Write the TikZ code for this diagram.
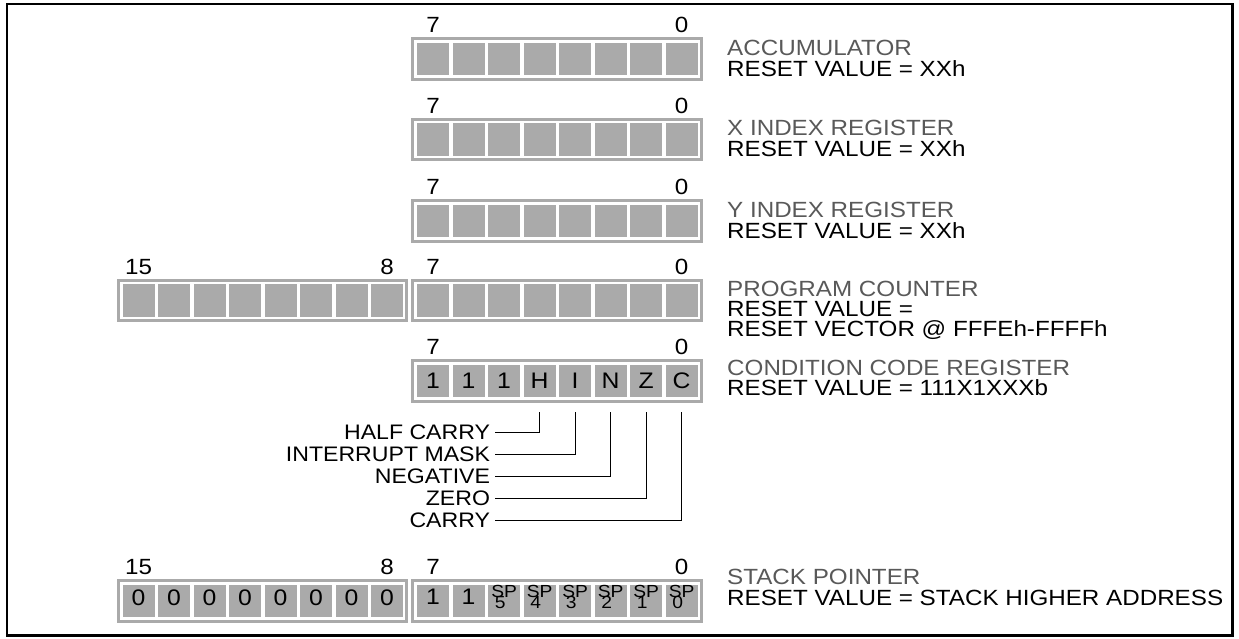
\documentclass[tikz,border=0pt]{standalone}
\usepackage{fontspec}
\setmainfont{Liberation Sans}[FakeStretch=1.1]
\usetikzlibrary{positioning,calc}
\definecolor{cellgray}{RGB}{170,170,170}
\definecolor{namegray}{RGB}{89,89,89}

% one byte of a register: #1 name, #2 left edge, #3 top edge, #4/#5 bit numbers
\newcommand{\regbyte}[5]{%
  \draw[regbox] (#2+1.5,#3+1.5) rectangle (#2+290.2,#3+41.9);
  \foreach \i [evaluate=\i as \b using int(7-\i)] in {0,...,7}
    \node[cell] (#1\b) at (#2+22.1+35.5*\i,#3+21.7) {};
  \node[bitnum] (#1hi) at ($(#17.north)+(0,-9.7)$) {#4};
  \node[bitnum] (#1lo) at ($(#10.north)+(0,-9.7)$) {#5};
}

\tikzset{
  regbox/.style={draw=cellgray, line width=3pt, fill=white},
  cell/.style={fill=cellgray, draw=none, inner sep=0pt, minimum width=32.2pt, minimum height=32.6pt},
  bitnum/.style={anchor=base, inner sep=0pt, font=\fontsize{22}{22}\selectfont},
  celltext/.style={anchor=base, inner sep=0pt, font=\fontsize{22.5}{22.5}\selectfont},
  sptext/.style={anchor=base, inner sep=0pt, font=\fontsize{17.5}{17.5}\selectfont},
  regname/.style={anchor=base west, inner sep=0pt, text=namegray, font=\fontsize{22}{22}\selectfont},
  regreset/.style={anchor=base west, inner sep=0pt, font=\fontsize{22}{22}\selectfont},
  flaglabel/.style={anchor=east, inner sep=0pt, outer xsep=5pt},
  flagline/.style={line width=1pt}
}

\begin{document}
\begin{tikzpicture}[x=1pt, y=-1pt, font=\fontsize{21}{24}\selectfont]
  \useasboundingbox (0,0) rectangle (1239,638);
  % outer frame
  \draw[line width=2.2pt] (7,4) rectangle (1232.5,635.5);

  % registers
  \regbyte{acc}{411}{37.3}{7}{0}
  \regbyte{xr}{411}{117.7}{7}{0}
  \regbyte{yr}{411}{199.3}{7}{0}
  \regbyte{pch}{116.5}{279}{15}{8}
  \regbyte{pcl}{411}{279}{7}{0}
  \regbyte{ccr}{411}{359.3}{7}{0}
  \regbyte{sph}{116.5}{579.3}{15}{8}
  \regbyte{spl}{411}{579.3}{7}{0}

  % condition code bits
  \foreach \b/\t in {7/1,6/1,5/1,4/H,3/I,2/N,1/Z,0/C}
    \node[celltext] (ccrt\b) at ($(ccr\b.center)+(0,7.8)$) {\t};

  % stack pointer bits
  \foreach \b in {0,...,7}
    \node[celltext] (spht\b) at ($(sph\b.center)+(0,4.2)$) {0};
  \foreach \b in {7,6}
    \node[celltext] (splt\b) at ($(spl\b.center)+(0,3.2)$) {1};
  \foreach \b in {0,...,5} {
    \node[sptext] (spn\b) at ($(spl\b.center)+(0,-3.5)$) {SP};
    \node[sptext] (spd\b) at ($(spl\b.center)+(-4,7.8)$) {\b};
  }

  % flag names
  \node[flaglabel] (half) at (495,432) {HALF CARRY};
  \node[flaglabel] (intm) at (495,454) {INTERRUPT MASK};
  \node[flaglabel] (negv) at (495,476) {NEGATIVE};
  \node[flaglabel] (zero) at (495,498) {ZERO};
  \node[flaglabel] (cary) at (495,520) {CARRY};
  \draw[flagline] (half.east) -| ([yshift=-14pt]ccr4.south);
  \draw[flagline] (intm.east) -| ([yshift=-14pt]ccr3.south);
  \draw[flagline] (negv.east) -| ([yshift=-14pt]ccr2.south);
  \draw[flagline] (zero.east) -| ([yshift=-14pt]ccr1.south);
  \draw[flagline] (cary.east) -| ([yshift=-14pt]ccr0.south);

  % register names and reset values
  \node[regname] (accname) at (727,55) {ACCUMULATOR};
  \node[regreset] (accreset) at (727,76) {RESET VALUE = XXh};
  \node[regname] (xname) at (727,135.4) {X INDEX REGISTER};
  \node[regreset] (xreset) at (727,156.4) {RESET VALUE = XXh};
  \node[regname] (yname) at (727,217) {Y INDEX REGISTER};
  \node[regreset] (yreset) at (727,238) {RESET VALUE = XXh};
  \node[regname] (pcname) at (727,296) {PROGRAM COUNTER};
  \node[regreset] (pcreset) at (727,316) {RESET VALUE =};
  \node[regreset] (pcvector) at (727,336) {RESET VECTOR @ FFFEh-FFFFh};
  \node[regname] (ccrname) at (727,375) {CONDITION CODE REGISTER};
  \node[regreset] (ccrreset) at (727,395.5) {RESET VALUE = 111X1XXXb};
  \node[regname] (spname) at (727,584.3) {STACK POINTER};
  \node[regreset] (spreset) at (727,605) {RESET VALUE = STACK HIGHER ADDRESS};
\end{tikzpicture}
\end{document}
